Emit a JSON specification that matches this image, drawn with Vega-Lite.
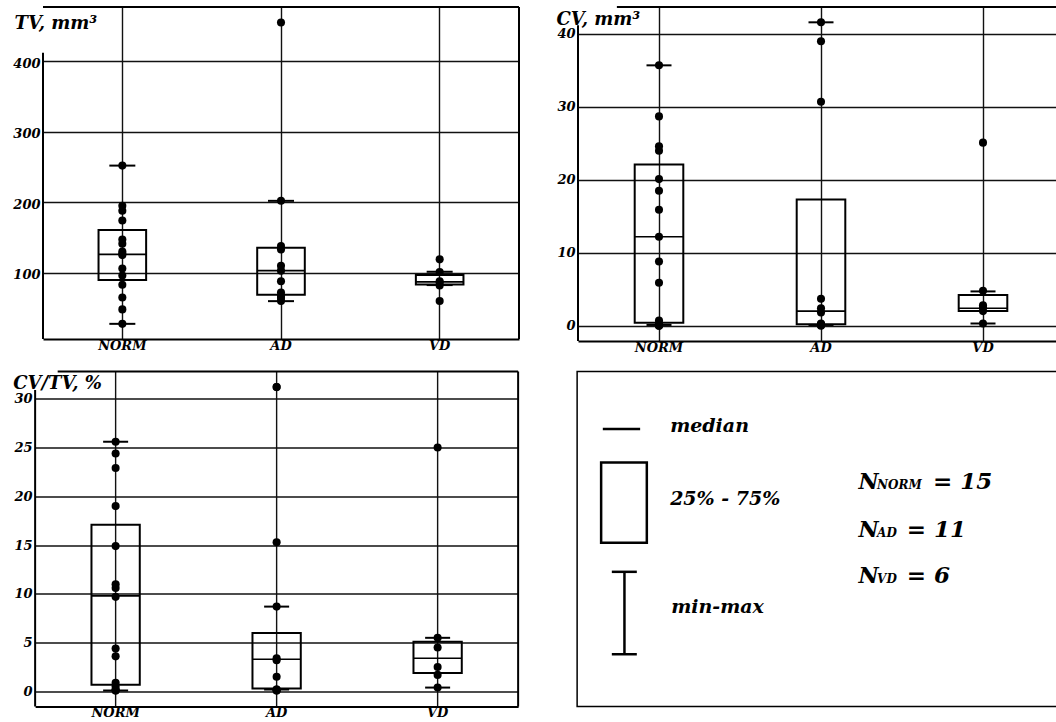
{
  "$schema": "https://vega.github.io/schema/vega-lite/v6.json",
  "background": "white",
  "padding": {"left": 12, "top": 6, "right": 0, "bottom": 0},
  "config": {
    "view": {"stroke": null},
    "font": "DejaVu Serif",
    "axis": {
      "labelFont": "DejaVu Serif", "labelFontStyle": "italic", "labelFontWeight": "bold",
      "labelFontSize": 13, "labelColor": "#000",
      "titleFont": "DejaVu Serif", "titleFontStyle": "italic", "titleFontWeight": "bold",
      "titleFontSize": 18, "titleColor": "#000",
      "gridColor": "#111", "gridWidth": 1.4, "gridOpacity": 1,
      "domainColor": "#000", "domainWidth": 2, "ticks": false
    },
    "tick": {"opacity": 1},
    "text": {"font": "DejaVu Serif", "fontStyle": "italic", "fontWeight": "bold", "color": "#000"}
  },
  "datasets": {
    "pts": [
      {"m": "TV", "group": "NORM", "v": 252}, {"m": "TV", "group": "NORM", "v": 195}, {"m": "TV", "group": "NORM", "v": 188},
      {"m": "TV", "group": "NORM", "v": 174}, {"m": "TV", "group": "NORM", "v": 147}, {"m": "TV", "group": "NORM", "v": 141},
      {"m": "TV", "group": "NORM", "v": 130}, {"m": "TV", "group": "NORM", "v": 127}, {"m": "TV", "group": "NORM", "v": 125},
      {"m": "TV", "group": "NORM", "v": 106}, {"m": "TV", "group": "NORM", "v": 96}, {"m": "TV", "group": "NORM", "v": 83},
      {"m": "TV", "group": "NORM", "v": 65}, {"m": "TV", "group": "NORM", "v": 48}, {"m": "TV", "group": "NORM", "v": 27.5},
      {"m": "TV", "group": "AD", "v": 455}, {"m": "TV", "group": "AD", "v": 202}, {"m": "TV", "group": "AD", "v": 138},
      {"m": "TV", "group": "AD", "v": 133}, {"m": "TV", "group": "AD", "v": 110}, {"m": "TV", "group": "AD", "v": 103},
      {"m": "TV", "group": "AD", "v": 88}, {"m": "TV", "group": "AD", "v": 72}, {"m": "TV", "group": "AD", "v": 67},
      {"m": "TV", "group": "AD", "v": 64}, {"m": "TV", "group": "AD", "v": 60},
      {"m": "TV", "group": "VD", "v": 119}, {"m": "TV", "group": "VD", "v": 101}, {"m": "TV", "group": "VD", "v": 88},
      {"m": "TV", "group": "VD", "v": 86}, {"m": "TV", "group": "VD", "v": 82}, {"m": "TV", "group": "VD", "v": 60},
      {"m": "CV", "group": "NORM", "v": 35.7}, {"m": "CV", "group": "NORM", "v": 28.7}, {"m": "CV", "group": "NORM", "v": 24.6},
      {"m": "CV", "group": "NORM", "v": 24.0}, {"m": "CV", "group": "NORM", "v": 20.1}, {"m": "CV", "group": "NORM", "v": 18.5},
      {"m": "CV", "group": "NORM", "v": 15.9}, {"m": "CV", "group": "NORM", "v": 12.2}, {"m": "CV", "group": "NORM", "v": 8.8},
      {"m": "CV", "group": "NORM", "v": 5.9}, {"m": "CV", "group": "NORM", "v": 0.7}, {"m": "CV", "group": "NORM", "v": 0.3},
      {"m": "CV", "group": "NORM", "v": 0.1}, {"m": "CV", "group": "NORM", "v": 0.0}, {"m": "CV", "group": "NORM", "v": 0.0},
      {"m": "CV", "group": "AD", "v": 41.6}, {"m": "CV", "group": "AD", "v": 39.0}, {"m": "CV", "group": "AD", "v": 30.7},
      {"m": "CV", "group": "AD", "v": 3.7}, {"m": "CV", "group": "AD", "v": 2.4}, {"m": "CV", "group": "AD", "v": 1.8},
      {"m": "CV", "group": "AD", "v": 0.3}, {"m": "CV", "group": "AD", "v": 0.2}, {"m": "CV", "group": "AD", "v": 0.1},
      {"m": "CV", "group": "AD", "v": 0.1}, {"m": "CV", "group": "AD", "v": 0.0},
      {"m": "CV", "group": "VD", "v": 25.1}, {"m": "CV", "group": "VD", "v": 4.8}, {"m": "CV", "group": "VD", "v": 2.8},
      {"m": "CV", "group": "VD", "v": 2.5}, {"m": "CV", "group": "VD", "v": 2.0}, {"m": "CV", "group": "VD", "v": 0.3},
      {"m": "R", "group": "NORM", "v": 25.6}, {"m": "R", "group": "NORM", "v": 24.4}, {"m": "R", "group": "NORM", "v": 22.9},
      {"m": "R", "group": "NORM", "v": 19.0}, {"m": "R", "group": "NORM", "v": 14.9}, {"m": "R", "group": "NORM", "v": 11.0},
      {"m": "R", "group": "NORM", "v": 10.6}, {"m": "R", "group": "NORM", "v": 9.7}, {"m": "R", "group": "NORM", "v": 4.4},
      {"m": "R", "group": "NORM", "v": 3.6}, {"m": "R", "group": "NORM", "v": 0.9}, {"m": "R", "group": "NORM", "v": 0.5},
      {"m": "R", "group": "NORM", "v": 0.2}, {"m": "R", "group": "NORM", "v": 0.1}, {"m": "R", "group": "NORM", "v": 0.1},
      {"m": "R", "group": "AD", "v": 31.2}, {"m": "R", "group": "AD", "v": 31.2}, {"m": "R", "group": "AD", "v": 15.3},
      {"m": "R", "group": "AD", "v": 8.7}, {"m": "R", "group": "AD", "v": 3.4}, {"m": "R", "group": "AD", "v": 3.2},
      {"m": "R", "group": "AD", "v": 1.5}, {"m": "R", "group": "AD", "v": 0.2}, {"m": "R", "group": "AD", "v": 0.1},
      {"m": "R", "group": "AD", "v": 0.1}, {"m": "R", "group": "AD", "v": 0.2},
      {"m": "R", "group": "VD", "v": 25.0}, {"m": "R", "group": "VD", "v": 5.5}, {"m": "R", "group": "VD", "v": 4.5},
      {"m": "R", "group": "VD", "v": 2.5}, {"m": "R", "group": "VD", "v": 1.7}, {"m": "R", "group": "VD", "v": 0.4}
    ],
    "stats": [
      {"m": "TV", "group": "NORM", "lo": 27.5, "q1": 89.6, "med": 126, "q3": 160.7, "hi": 252},
      {"m": "TV", "group": "AD", "lo": 59.7, "q1": 68.7, "med": 103, "q3": 135.6, "hi": 202},
      {"m": "TV", "group": "VD", "lo": 82.5, "q1": 83.4, "med": 87, "q3": 96.7, "hi": 101.4},
      {"m": "CV", "group": "NORM", "lo": 0.1, "q1": 0.4, "med": 12.2, "q3": 22.1, "hi": 35.7},
      {"m": "CV", "group": "AD", "lo": 0.1, "q1": 0.2, "med": 2.0, "q3": 17.3, "hi": 41.6},
      {"m": "CV", "group": "VD", "lo": 0.3, "q1": 2.0, "med": 2.4, "q3": 4.2, "hi": 4.7},
      {"m": "R", "group": "NORM", "lo": 0.1, "q1": 0.7, "med": 9.8, "q3": 17.1, "hi": 25.6},
      {"m": "R", "group": "AD", "lo": 0.2, "q1": 0.3, "med": 3.3, "q3": 6.0, "hi": 8.7},
      {"m": "R", "group": "VD", "lo": 0.4, "q1": 1.9, "med": 3.4, "q3": 5.1, "hi": 5.5}
    ],
    "nstats": [
      {"group": "NORM", "n": 15, "label": "= 15"},
      {"group": "AD", "n": 11, "label": "= 11"},
      {"group": "VD", "n": 6, "label": "= 6"}
    ]
  },
  "vconcat": [
    {
      "hconcat": [
        {
          "width": 476, "height": 332,
          "layer": [
            {"data": {"values": [{}]}, "mark": {"type": "rule", "color": "#000", "strokeWidth": 2},
             "encoding": {"y": {"datum": 477, "type": "quantitative", "scale": {"domain": [6, 477], "nice": false, "zero": false}}}},
            {"data": {"values": [{}]}, "mark": {"type": "rule", "color": "#000", "strokeWidth": 2},
             "encoding": {"x": {"datum": "VD", "bandPosition": 1, "type": "nominal", "scale": {"type": "band", "domain": ["NORM", "AD", "VD"], "paddingInner": 0, "paddingOuter": 0}}}},
            {"data": {"values": [{}]}, "mark": {"type": "rule", "color": "#000", "strokeWidth": 2},
             "encoding": {"x": {"datum": "NORM", "bandPosition": 0, "type": "nominal"},
                          "y": {"datum": 412, "type": "quantitative"}, "y2": {"datum": 6}}},
            {"data": {"name": "stats"}, "transform": [{"filter": "datum.m === 'TV'"}],
             "mark": {"type": "bar", "fill": "transparent", "stroke": "#000", "strokeWidth": 2, "width": {"band": 0.3}},
             "encoding": {
               "x": {"field": "group", "type": "nominal", "scale": {"type": "band", "domain": ["NORM", "AD", "VD"], "paddingInner": 0, "paddingOuter": 0},
                     "axis": {"title": null, "grid": true, "bandPosition": 0.5, "labelAngle": 0, "labelAlign": "center", "labelBaseline": "top", "labelPadding": 0, "domain": true}},
               "y": {"field": "q1", "type": "quantitative", "scale": {"domain": [6, 477], "nice": false, "zero": false},
                     "axis": {"values": [100, 200, 300, 400], "grid": true, "domain": false, "labelPadding": 3, "labelOffset": 2,
                              "title": "TV, mm³", "titleAngle": 0, "titleAlign": "left", "titleBaseline": "alphabetic", "titleX": -29, "titleY": 21}},
               "y2": {"field": "q3"}}},
            {"data": {"name": "stats"}, "transform": [{"filter": "datum.m === 'TV'"}],
             "mark": {"type": "tick", "orient": "horizontal", "size": 48, "thickness": 1.6, "color": "#000"},
             "encoding": {"x": {"field": "group", "type": "nominal"}, "y": {"field": "med", "type": "quantitative"}}},
            {"data": {"name": "stats"}, "transform": [{"filter": "datum.m === 'TV'"}],
             "mark": {"type": "tick", "orient": "horizontal", "size": 26, "thickness": 2, "color": "#000"},
             "encoding": {"x": {"field": "group", "type": "nominal"}, "y": {"field": "lo", "type": "quantitative"}}},
            {"data": {"name": "stats"}, "transform": [{"filter": "datum.m === 'TV'"}],
             "mark": {"type": "tick", "orient": "horizontal", "size": 26, "thickness": 2, "color": "#000"},
             "encoding": {"x": {"field": "group", "type": "nominal"}, "y": {"field": "hi", "type": "quantitative"}}},
            {"data": {"name": "pts"}, "transform": [{"filter": "datum.m === 'TV'"}],
             "mark": {"type": "circle", "size": 65, "color": "#000", "opacity": 1},
             "encoding": {"x": {"field": "group", "type": "nominal"}, "y": {"field": "v", "type": "quantitative"}}}
          ]
        },
        {
          "width": 486, "height": 334,
          "layer": [
            {"data": {"values": [{}]}, "mark": {"type": "rule", "color": "#000", "strokeWidth": 2},
             "encoding": {"x": {"datum": "NORM", "bandPosition": 0.24, "type": "nominal", "scale": {"type": "band", "domain": ["NORM", "AD", "VD"], "paddingInner": 0, "paddingOuter": 0}},
                          "x2": {"datum": "VD", "bandPosition": 1},
                          "y": {"datum": 43.7, "type": "quantitative", "scale": {"domain": [-2.1, 43.7], "nice": false, "zero": false}}}},
            {"data": {"values": [{}]}, "mark": {"type": "rule", "color": "#000", "strokeWidth": 2},
             "encoding": {"x": {"datum": "NORM", "bandPosition": 0, "type": "nominal"},
                          "y": {"datum": 41.2, "type": "quantitative"}, "y2": {"datum": -2.1}}},
            {"data": {"name": "stats"}, "transform": [{"filter": "datum.m === 'CV'"}],
             "mark": {"type": "bar", "fill": "transparent", "stroke": "#000", "strokeWidth": 2, "width": {"band": 0.3}},
             "encoding": {
               "x": {"field": "group", "type": "nominal", "scale": {"type": "band", "domain": ["NORM", "AD", "VD"], "paddingInner": 0, "paddingOuter": 0},
                     "axis": {"title": null, "grid": true, "bandPosition": 0.5, "labelAngle": 0, "labelAlign": "center", "labelBaseline": "top", "labelPadding": 0, "domain": true}},
               "y": {"field": "q1", "type": "quantitative", "scale": {"domain": [-2.1, 43.7], "nice": false, "zero": false},
                     "axis": {"values": [0, 10, 20, 30, 40], "grid": true, "domain": false, "labelPadding": 3,
                              "title": "CV, mm³", "titleAngle": 0, "titleAlign": "left", "titleBaseline": "alphabetic", "titleX": -22, "titleY": 17}},
               "y2": {"field": "q3"}}},
            {"data": {"name": "stats"}, "transform": [{"filter": "datum.m === 'CV'"}],
             "mark": {"type": "tick", "orient": "horizontal", "size": 48, "thickness": 1.6, "color": "#000"},
             "encoding": {"x": {"field": "group", "type": "nominal"}, "y": {"field": "med", "type": "quantitative"}}},
            {"data": {"name": "stats"}, "transform": [{"filter": "datum.m === 'CV'"}],
             "mark": {"type": "tick", "orient": "horizontal", "size": 25, "thickness": 2, "color": "#000"},
             "encoding": {"x": {"field": "group", "type": "nominal"}, "y": {"field": "lo", "type": "quantitative"}}},
            {"data": {"name": "stats"}, "transform": [{"filter": "datum.m === 'CV'"}],
             "mark": {"type": "tick", "orient": "horizontal", "size": 25, "thickness": 2, "color": "#000"},
             "encoding": {"x": {"field": "group", "type": "nominal"}, "y": {"field": "hi", "type": "quantitative"}}},
            {"data": {"name": "pts"}, "transform": [{"filter": "datum.m === 'CV'"}],
             "mark": {"type": "circle", "size": 65, "color": "#000", "opacity": 1},
             "encoding": {"x": {"field": "group", "type": "nominal"}, "y": {"field": "v", "type": "quantitative"}}}
          ]
        }
      ],
      "spacing": 59, "bounds": "flush"
    },
    {
      "hconcat": [
        {
          "width": 483, "height": 335,
          "layer": [
            {"data": {"values": [{}]}, "mark": {"type": "rule", "color": "#000", "strokeWidth": 2},
             "encoding": {"x": {"datum": "NORM", "bandPosition": 0.14, "type": "nominal", "scale": {"type": "band", "domain": ["NORM", "AD", "VD"], "paddingInner": 0, "paddingOuter": 0}},
                          "x2": {"datum": "VD", "bandPosition": 1},
                          "y": {"datum": 32.8, "type": "quantitative", "scale": {"domain": [-1.54, 32.8], "nice": false, "zero": false}}}},
            {"data": {"values": [{}]}, "mark": {"type": "rule", "color": "#000", "strokeWidth": 2},
             "encoding": {"x": {"datum": "VD", "bandPosition": 1, "type": "nominal"}}},
            {"data": {"values": [{}]}, "mark": {"type": "rule", "color": "#000", "strokeWidth": 2},
             "encoding": {"x": {"datum": "NORM", "bandPosition": 0, "type": "nominal"},
                          "y": {"datum": 30.9, "type": "quantitative"}, "y2": {"datum": -1.54}}},
            {"data": {"name": "stats"}, "transform": [{"filter": "datum.m === 'R'"}],
             "mark": {"type": "bar", "fill": "transparent", "stroke": "#000", "strokeWidth": 2, "width": {"band": 0.3}},
             "encoding": {
               "x": {"field": "group", "type": "nominal", "scale": {"type": "band", "domain": ["NORM", "AD", "VD"], "paddingInner": 0, "paddingOuter": 0},
                     "axis": {"title": null, "grid": true, "bandPosition": 0.5, "labelAngle": 0, "labelAlign": "center", "labelBaseline": "top", "labelPadding": 0, "domain": true}},
               "y": {"field": "q1", "type": "quantitative", "scale": {"domain": [-1.54, 32.8], "nice": false, "zero": false},
                     "axis": {"values": [0, 5, 10, 15, 20, 25, 30], "grid": true, "domain": false, "labelPadding": 3,
                              "title": "CV/TV, %", "titleAngle": 0, "titleAlign": "left", "titleBaseline": "alphabetic", "titleX": -22.5, "titleY": 17}},
               "y2": {"field": "q3"}}},
            {"data": {"name": "stats"}, "transform": [{"filter": "datum.m === 'R'"}],
             "mark": {"type": "tick", "orient": "horizontal", "size": 48, "thickness": 1.6, "color": "#000"},
             "encoding": {"x": {"field": "group", "type": "nominal"}, "y": {"field": "med", "type": "quantitative"}}},
            {"data": {"name": "stats"}, "transform": [{"filter": "datum.m === 'R'"}],
             "mark": {"type": "tick", "orient": "horizontal", "size": 25, "thickness": 2, "color": "#000"},
             "encoding": {"x": {"field": "group", "type": "nominal"}, "y": {"field": "lo", "type": "quantitative"}}},
            {"data": {"name": "stats"}, "transform": [{"filter": "datum.m === 'R'"}],
             "mark": {"type": "tick", "orient": "horizontal", "size": 25, "thickness": 2, "color": "#000"},
             "encoding": {"x": {"field": "group", "type": "nominal"}, "y": {"field": "hi", "type": "quantitative"}}},
            {"data": {"name": "pts"}, "transform": [{"filter": "datum.m === 'R'"}],
             "mark": {"type": "circle", "size": 65, "color": "#000", "opacity": 1},
             "encoding": {"x": {"field": "group", "type": "nominal"}, "y": {"field": "v", "type": "quantitative"}}}
          ]
        },
        {
          "width": 495, "height": 335,
          "view": {"stroke": "#000", "strokeWidth": 1.5},
          "data": {"name": "nstats"},
          "layer": [
            {"data": {"values": [{}]}, "mark": {"type": "rule", "color": "#000", "strokeWidth": 2.5},
             "encoding": {"x": {"datum": 5.19, "type": "quantitative", "scale": {"domain": [0, 100], "nice": false, "zero": false}, "axis": null},
                          "x2": {"datum": 12.73},
                          "y": {"datum": 17.2, "type": "quantitative", "scale": {"domain": [0, 100], "nice": false, "zero": false, "reverse": true}, "axis": null}}},
            {"data": {"values": [{}]}, "mark": {"type": "rect", "fill": "transparent", "stroke": "#000", "strokeWidth": 2.5},
             "encoding": {"x": {"datum": 4.85, "type": "quantitative", "axis": null}, "x2": {"datum": 14.08},
                          "y": {"datum": 27.2, "type": "quantitative", "axis": null}, "y2": {"datum": 51.1}}},
            {"data": {"values": [{}]}, "mark": {"type": "rule", "color": "#000", "strokeWidth": 2.5},
             "encoding": {"x": {"datum": 9.56, "type": "quantitative", "axis": null},
                          "y": {"datum": 59.8, "type": "quantitative", "axis": null}, "y2": {"datum": 84.4}}},
            {"data": {"values": [{}]}, "mark": {"type": "rule", "color": "#000", "strokeWidth": 2.5},
             "encoding": {"x": {"datum": 7.01, "type": "quantitative", "axis": null}, "x2": {"datum": 12.06},
                          "y": {"datum": 59.8, "type": "quantitative", "axis": null}}},
            {"data": {"values": [{}]}, "mark": {"type": "rule", "color": "#000", "strokeWidth": 2.5},
             "encoding": {"x": {"datum": 7.01, "type": "quantitative", "axis": null}, "x2": {"datum": 12.06},
                          "y": {"datum": 84.4, "type": "quantitative", "axis": null}}},
            {"data": {"values": [{}]}, "mark": {"type": "text", "align": "left", "baseline": "middle", "fontSize": 19},
             "encoding": {"x": {"datum": 18.79, "type": "quantitative", "axis": null},
                          "y": {"datum": 16.2, "type": "quantitative", "axis": null}, "text": {"value": "median"}}},
            {"data": {"values": [{}]}, "mark": {"type": "text", "align": "left", "baseline": "middle", "fontSize": 19},
             "encoding": {"x": {"datum": 18.79, "type": "quantitative", "axis": null},
                          "y": {"datum": 38.2, "type": "quantitative", "axis": null}, "text": {"value": "25% - 75%"}}},
            {"data": {"values": [{}]}, "mark": {"type": "text", "align": "left", "baseline": "middle", "fontSize": 19},
             "encoding": {"x": {"datum": 18.99, "type": "quantitative", "axis": null},
                          "y": {"datum": 70.2, "type": "quantitative", "axis": null}, "text": {"value": "min-max"}}},
            {"transform": [{"filter": "datum.group === 'NORM'"}],
             "mark": {"type": "text", "align": "left", "baseline": "alphabetic", "fontSize": 22},
             "encoding": {"x": {"datum": 56.83, "type": "quantitative", "axis": null}, "y": {"datum": 35.16, "type": "quantitative", "axis": null}, "text": {"value": "N"}}},
            {"transform": [{"filter": "datum.group === 'NORM'"}],
             "mark": {"type": "text", "align": "left", "baseline": "alphabetic", "fontSize": 12},
             "encoding": {"x": {"datum": 60.6, "type": "quantitative", "axis": null}, "y": {"datum": 35.16, "type": "quantitative", "axis": null}, "text": {"field": "group"}}},
            {"transform": [{"filter": "datum.group === 'NORM'"}],
             "mark": {"type": "text", "align": "left", "baseline": "alphabetic", "fontSize": 23},
             "encoding": {"x": {"datum": 71.9, "type": "quantitative", "axis": null}, "y": {"datum": 35.16, "type": "quantitative", "axis": null}, "text": {"field": "label"}}},
            {"transform": [{"filter": "datum.group === 'AD'"}],
             "mark": {"type": "text", "align": "left", "baseline": "alphabetic", "fontSize": 22},
             "encoding": {"x": {"datum": 56.83, "type": "quantitative", "axis": null}, "y": {"datum": 49.5, "type": "quantitative", "axis": null}, "text": {"value": "N"}}},
            {"transform": [{"filter": "datum.group === 'AD'"}],
             "mark": {"type": "text", "align": "left", "baseline": "alphabetic", "fontSize": 12},
             "encoding": {"x": {"datum": 60.6, "type": "quantitative", "axis": null}, "y": {"datum": 49.5, "type": "quantitative", "axis": null}, "text": {"field": "group"}}},
            {"transform": [{"filter": "datum.group === 'AD'"}],
             "mark": {"type": "text", "align": "left", "baseline": "alphabetic", "fontSize": 23},
             "encoding": {"x": {"datum": 66.6, "type": "quantitative", "axis": null}, "y": {"datum": 49.5, "type": "quantitative", "axis": null}, "text": {"field": "label"}}},
            {"transform": [{"filter": "datum.group === 'VD'"}],
             "mark": {"type": "text", "align": "left", "baseline": "alphabetic", "fontSize": 22},
             "encoding": {"x": {"datum": 56.83, "type": "quantitative", "axis": null}, "y": {"datum": 63.2, "type": "quantitative", "axis": null}, "text": {"value": "N"}}},
            {"transform": [{"filter": "datum.group === 'VD'"}],
             "mark": {"type": "text", "align": "left", "baseline": "alphabetic", "fontSize": 12},
             "encoding": {"x": {"datum": 60.6, "type": "quantitative", "axis": null}, "y": {"datum": 63.2, "type": "quantitative", "axis": null}, "text": {"field": "group"}}},
            {"transform": [{"filter": "datum.group === 'VD'"}],
             "mark": {"type": "text", "align": "left", "baseline": "alphabetic", "fontSize": 23},
             "encoding": {"x": {"datum": 66.6, "type": "quantitative", "axis": null}, "y": {"datum": 63.2, "type": "quantitative", "axis": null}, "text": {"field": "label"}}}
          ]
        }
      ],
      "spacing": 59, "bounds": "flush"
    }
  ],
  "spacing": 16.5,
  "center": true
}
